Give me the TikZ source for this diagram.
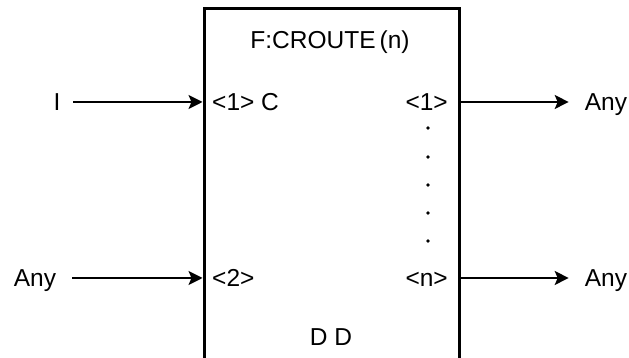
\documentclass[tikz,border=0pt]{standalone}
\usepackage{fontspec}
\setmainfont{Liberation Sans}
\usetikzlibrary{arrows.meta,positioning,calc}

\begin{document}
\begin{tikzpicture}[
    x=1pt, y=1pt,
    lbl/.style={inner sep=1pt, text height=17.5pt, text depth=0pt,
                font=\fontsize{24.5}{28}\selectfont},
    fbox/.style={rectangle, draw=black, line width=3pt, minimum width=255pt,
                 minimum height=369pt, inner sep=0pt},
    flow/.style={-{Stealth[length=14pt,width=14pt,inset=3pt]}, line width=1.4pt},
    pdot/.style={circle, fill=black, inner sep=0pt, minimum size=3.8pt}
]
\useasboundingbox (0,0) rectangle (629,358);
\clip (0,0) rectangle (629,358);
% function box (bottom edge runs off the page)
\node[fbox] (croute) at (331.5,164.5) {};
\node[lbl] (title) at (330,318) {F:CROUTE\,(n)};
\node[lbl] (dd) at (331,21) {D D};
% ports
\node[lbl, anchor=west] (in1) at (211,256) {<1> C};
\node[lbl, anchor=west] (in2) at (211,80) {<2>};
\node[lbl, anchor=east] (out1) at (449,256) {<1>};
\node[lbl, anchor=east] (outn) at (449,80) {<n>};
\foreach \y [count=\i] in {230,201,173,145,117}
    \node[pdot] (d\i) at (428,\y) {};
% types
\node[lbl] (tI) at (57,256) {I};
\node[lbl] (tA) at (35,80) {Any};
\node[lbl] (tO1) at (606,256) {Any};
\node[lbl] (tOn) at (606,80) {Any};
\coordinate (a1) at (73,256);
\coordinate (a2) at (72,80);
\draw[flow] (a1) -- (a1 -| croute.west);
\draw[flow] (a2) -- (a2 -| croute.west);
\draw[flow] (tO1.west -| croute.east) -- ([xshift=-15pt]tO1.west);
\draw[flow] (tOn.west -| croute.east) -- ([xshift=-15pt]tOn.west);
\end{tikzpicture}
\end{document}
